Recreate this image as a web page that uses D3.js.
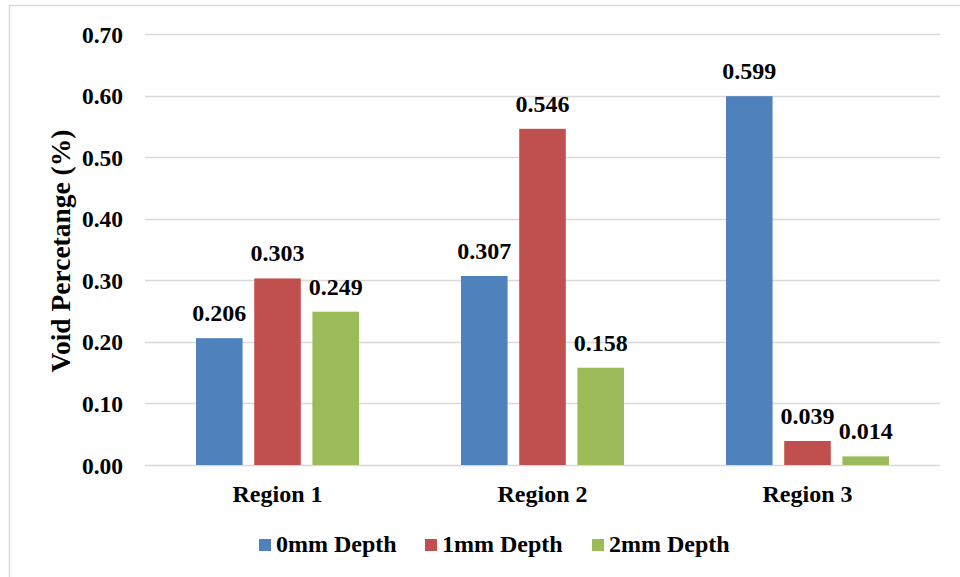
<!DOCTYPE html>
<html><head><meta charset="utf-8">
<script src="https://cdn.jsdelivr.net/npm/d3@7"></script>
<style>body{margin:0;background:#fff}svg{display:block}</style>
</head><body><svg id="c" width="960" height="577"></svg>
<script>
const categories = ["Region 1", "Region 2", "Region 3"];
const seriesNames = ["0mm Depth", "1mm Depth", "2mm Depth"];
const depth0 = [0.206, 0.307, 0.599];
const depth1 = [0.303, 0.546, 0.039];
const depth2 = [0.249, 0.158, 0.014];
const yTicks = [0, 0.1, 0.2, 0.3, 0.4, 0.5, 0.6, 0.7];
const colors = ["#4F81BD", "#C0504D", "#9BBB59"];
const series = [depth0, depth1, depth2];
const FONT = '"Liberation Serif"';

function styleText(sel, size) {
  sel.style("font-family", FONT).style("font-weight", "bold").style("font-size", size + "px").attr("fill", "#000");
}

const svg = d3.select("#c");
svg.append("rect").attr("x", 9.5).attr("y", 5.5).attr("width", 960).attr("height", 600)
  .attr("fill", "#fff").attr("stroke", "#d9d9d9").attr("stroke-width", 1.5);

const L = 145, R = 940, T = 34, B = 465;
const y = d3.scaleLinear().domain([0, 0.7]).range([B, T]);
const x0 = d3.scaleBand().domain(categories).range([L, R]).paddingInner(0.385).paddingOuter(0.1925);
const x1 = d3.scaleBand().domain(seriesNames).range([0, x0.bandwidth()]).paddingInner(0.2).paddingOuter(0);

// gridlines
svg.append("g").selectAll("line").data(yTicks).join("line")
  .attr("x1", L).attr("x2", R).attr("y1", d => Math.round(y(d)) + 0.5).attr("y2", d => Math.round(y(d)) + 0.5)
  .attr("stroke", "#d9d9d9").attr("stroke-width", 1.5);

// y axis labels
const yAxis = d3.axisLeft(y).tickValues(yTicks).tickFormat(d3.format(".2f")).tickSize(0).tickPadding(0);
const ya = svg.append("g").attr("transform", `translate(${L - 22},0)`).call(yAxis);
ya.select(".domain").remove();
styleText(ya.selectAll("text").attr("dy", "0.34em"), 23.5);

// x axis labels
const xAxis = d3.axisBottom(x0).tickSize(0).tickPadding(0);
const xa = svg.append("g").attr("transform", `translate(0,${B + 20})`).call(xAxis);
xa.select(".domain").remove();
styleText(xa.selectAll("text").attr("dy", "0.7em"), 24);

// bars
const groups = svg.append("g").selectAll("g").data(categories).join("g")
  .attr("transform", d => `translate(${x0(d)},0)`);
const rows = (c, i) => series.map((s, j) => ({ name: seriesNames[j], v: s[i], j }));
groups.selectAll("rect").data(rows).join("rect")
  .attr("x", d => x1(d.name)).attr("width", x1.bandwidth())
  .attr("y", d => y(d.v)).attr("height", d => B - y(d.v))
  .attr("fill", d => colors[d.j]);
styleText(groups.selectAll("text").data(rows).join("text")
  .attr("x", d => x1(d.name) + x1.bandwidth() / 2).attr("y", d => y(d.v) - 17)
  .attr("text-anchor", "middle")
  .text(d => d3.format(".3f")(d.v)), 24);

// y title
styleText(svg.append("text").attr("transform", `translate(70,251) rotate(-90)`)
  .attr("text-anchor", "middle").text("Void Percetange (%)"), 27.5);

// legend
const legX = [259, 425, 592];
const leg = svg.append("g").selectAll("g").data(seriesNames).join("g")
  .attr("transform", (d, i) => `translate(${legX[i]},545)`);
leg.append("rect").attr("x", 0).attr("y", -6).attr("width", 12).attr("height", 12).attr("fill", (d, i) => colors[i]);
styleText(leg.append("text").attr("x", 17).attr("y", 7).text(d => d), 24);
</script></body></html>
